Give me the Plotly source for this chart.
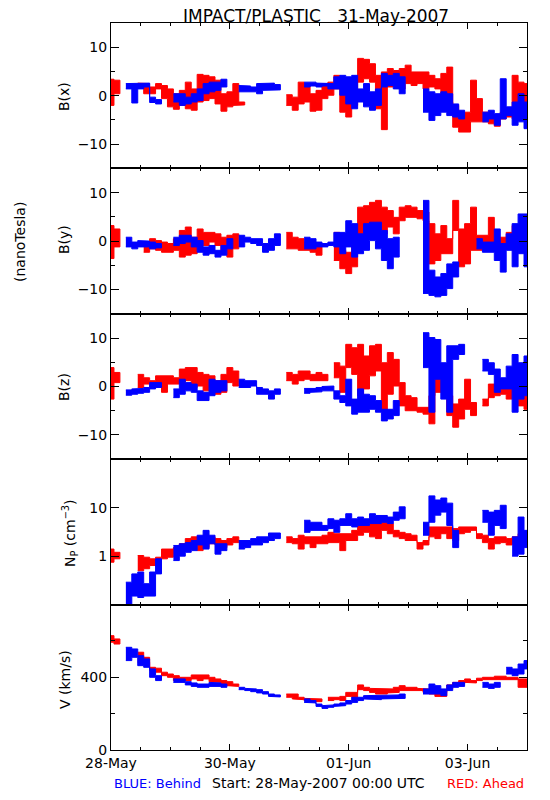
import plotly.graph_objects as go
from plotly.subplots import make_subplots

N = None
# time grid: days since 28-May-2007 00:00 UTC, 0.1-day samples
T = [k / 10 for k in range(71)]
HALF_STEP = 0.05

X_TICK_VALS = [0, 2, 4, 6]
X_TICK_TEXT = ["28-May", "30-May", "01-Jun", "03-Jun"]

# ---- B(x) nT ----
BX_A_HI = [3.4, 3.2, N, N, N, 2.6, 2.5, 1.8, 2.5, 2.1,
           1.4, 0.4, 1.1, 2.8, 1.4, 4.4, 4.2, 3.9, 3.2, 0.4,
           0.8, 2.5, -1.3, N, N, N, N, N, N, N,
           0.2, -0.3, 2.8, 2.5, 0.4, 1.1, 2.5, 2.8, 4.2, 3.2,
           1.4, 3.5, 7.7, 7.5, 6.6, 4.2, 4.9, 5.6, 5.2, 5.6,
           6.3, 4.9, 4.9, 4.9, 4.2, 3.5, 4.6, 5.9, -2.0, -4.1,
           -3.4, 3.2, -0.6, -3.4, -4.1, -4.4, -3.4, -3.4, 4.2, 2.8,
           2.5]
BX_A_LO = [-2.0, 0.4, N, N, N, 1.6, 0.4, 0.4, 1.4, -0.6,
           -2.3, -2.8, -2.0, -2.7, -3.0, -1.3, -1.0, -0.6, -1.7, -3.2,
           -2.3, -2.0, -1.9, N, N, N, N, N, N, N,
           -2.0, -3.0, -1.7, -1.3, -3.2, -3.0, -0.6, 0.1, 1.4, -3.4,
           -4.4, -2.0, 2.8, 3.5, 2.8, -2.7, -7.0, 1.8, 2.1, 1.4,
           2.5, 2.1, 2.5, 1.4, 1.8, 1.4, -0.3, -1.3, -6.5, -7.5,
           -7.5, -5.4, -5.4, -5.4, -5.8, -6.3, -4.8, -4.4, -4.8, -2.7,
           -4.1]
BX_B_HI = [N, N, N, 2.5, 2.5, 2.6, 2.6, -0.3, -0.8, N,
           N, 0.4, 0.4, -0.3, 0.4, 1.4, 2.5, 2.8, 2.8, 3.4,
           N, N, 2.1, 2.0, 1.8, 2.5, 2.5, 2.6, 2.3, N,
           N, N, N, 2.8, 2.8, 2.6, 2.6, 2.5, 3.9, 4.2,
           3.9, 4.2, 1.4, 2.5, 0.8, 1.4, 4.6, 4.2, 4.6, 3.9,
           N, N, N, 1.4, 0.8, 0.4, 0.8, 0.4, -1.7, -3.0,
           N, N, N, -3.4, -3.0, -3.7, 3.5, -2.3, -1.3, 0.4,
           -1.3]
BX_B_LO = [N, N, N, 1.4, -1.5, 1.4, 1.8, -1.4, -1.7, N,
           N, -1.3, -2.0, -1.7, -1.3, -1.0, 0.4, 0.8, 1.1, 1.8,
           N, N, 0.8, 0.8, 0.8, 0.4, 1.1, 1.1, 1.2, N,
           N, N, N, 1.8, 2.0, 1.8, 2.0, 1.4, 1.4, 0.1,
           -1.7, -2.7, -1.3, -2.3, -3.0, -2.0, 1.8, 2.1, 1.4, 0.4,
           N, N, N, -3.4, -5.1, -4.1, -3.4, -4.1, -4.4, -4.8,
           N, N, N, -5.4, -4.8, -6.1, -4.8, -4.1, -6.1, -5.4,
           -6.8]

# ---- B(y) nT ----
BY_A_HI = [3.2, 2.5, N, N, N, N, -0.2, 0.5, 0.1, -0.2,
           -0.5, 0.5, 2.2, 2.9, 0.8, 2.5, 1.8, 1.8, 1.5, 0.8,
           1.2, 1.5, N, N, N, N, N, N, N, N,
           1.8, 0.8, 0.5, -0.2, -0.2, -0.5, N, N, 1.8, -1.9,
           -2.3, 0.8, 7.0, 7.3, 8.0, 8.4, 7.0, 6.3, 4.9, 7.0,
           7.3, 7.0, 6.3, 6.0, 3.6, 1.5, 3.2, 0.5, 8.4, 2.5,
           3.6, 7.0, 1.2, 1.2, 4.9, 0.5, 0.8, 1.8, 3.2, 1.8,
           2.9]
BY_A_LO = [-3.6, -1.2, N, N, N, N, -2.3, -1.6, -1.9, -2.3,
           -2.3, -1.9, -3.3, -2.9, -2.6, -0.2, -0.9, -0.2, -0.9, -1.9,
           -3.3, -1.6, N, N, N, N, N, N, N, N,
           -1.6, -1.6, -1.9, -1.9, -2.3, -2.9, N, N, -4.0, -5.7,
           -6.7, -5.3, -0.5, 1.8, 3.6, 3.2, 1.5, 2.9, 1.5, 4.2,
           4.9, 4.9, 4.6, 4.2, -4.7, -4.0, -2.6, -2.6, 2.2, -5.3,
           -4.7, -1.9, -1.9, -1.6, -1.2, -1.6, -1.2, -0.9, -1.9, -1.6,
           -0.5]
BY_B_HI = [N, N, N, 0.8, -0.2, 0.1, 0.0, -0.2, -0.5, N,
           N, 0.8, 1.2, 1.2, 0.8, 0.1, -1.2, -0.9, -1.9, -0.9,
           0.5, N, 1.2, 0.8, 0.5, 0.5, -0.5, 0.5, 1.5, N,
           N, N, N, 0.8, 0.5, -0.2, -0.5, -0.2, 1.8, 1.8,
           4.2, 3.6, 1.5, 3.6, 3.9, 3.9, 2.2, 0.5, 0.8, N,
           N, N, N, 8.4, -6.0, -7.4, -6.7, -4.7, -4.3, N,
           N, N, 0.5, -0.2, -0.2, 2.5, -0.5, 1.5, 3.6, 5.6,
           5.6]
BY_B_LO = [N, N, N, -1.2, -1.6, -1.2, -1.2, -1.6, -1.4, N,
           N, -0.9, -0.5, -0.2, -1.2, -2.3, -2.9, -2.6, -3.3, -2.9,
           -1.6, N, -1.2, -0.2, -0.5, -0.9, -2.3, -1.9, -0.9, N,
           N, N, N, -1.6, -1.6, -1.2, -1.2, -0.9, -1.2, -2.6,
           -1.2, -3.3, -2.6, -1.9, 0.1, -1.6, -4.0, -5.7, -3.3, N,
           N, N, N, -10.8, -11.2, -11.5, -11.2, -9.8, -7.4, N,
           N, N, -1.6, -2.3, -2.3, -4.0, -6.4, -1.9, -5.3, -2.6,
           -5.3]

# ---- B(z) nT ----
BZ_A_HI = [3.9, 2.9, N, N, N, 2.5, 1.8, 1.2, 2.2, 2.2,
           2.2, 1.8, 3.6, 3.9, 3.9, 2.9, 2.5, 2.2, 1.2, 2.5,
           3.9, 3.2, N, N, N, N, N, N, N, N,
           2.9, 2.5, 3.2, 3.2, 2.5, 2.9, 2.5, N, 4.9, 4.2,
           8.7, 8.0, 8.7, 6.3, 8.4, 8.7, 4.9, 7.0, 5.6, 0.8,
           -1.9, -2.3, -4.3, -4.3, -1.9, 4.2, 3.6, -1.9, -3.6, -2.6,
           1.5, -3.3, N, -2.6, 0.5, 0.5, 1.2, -0.2, 2.9, -0.5,
           -1.6]
BZ_A_LO = [-2.6, 0.8, N, N, N, -0.2, 0.5, -0.2, 0.5, -1.2,
           0.5, 0.5, 0.8, 1.2, -0.2, 0.1, -0.9, -0.2, -1.6, -1.2,
           0.8, 0.1, N, N, N, N, N, N, N, N,
           1.2, 0.5, 1.2, 1.5, 1.2, 1.2, 1.2, N, 1.8, -1.2,
           3.9, 2.5, -1.9, -0.5, 2.2, 3.2, -5.0, -1.6, 0.1, -4.0,
           -5.0, -5.0, -5.3, -5.7, -7.7, -1.2, -1.2, -6.0, -8.4, -6.7,
           -4.7, -6.0, N, -4.0, -2.3, -1.9, -1.6, -2.6, -1.2, -4.0,
           -4.7]
BZ_B_HI = [N, N, N, -0.7, -0.5, -0.4, -0.2, 0.8, 0.8, N,
           N, -0.5, 1.5, 0.8, 0.5, -0.9, -1.2, 1.5, 1.2, 1.2,
           N, N, 1.5, 1.2, 1.2, -0.2, -0.5, -0.9, -0.5, N,
           N, N, N, -0.4, -0.4, -0.2, 0.0, 0.1, -0.9, -1.9,
           1.5, -2.6, -0.5, -1.6, -1.9, -2.9, -4.7, -4.7, -2.9, N,
           N, N, N, 11.1, 10.1, 9.7, 4.9, 8.4, 8.4, 8.7,
           N, N, N, 5.6, 4.9, 3.6, 1.8, 4.2, 6.6, 4.9,
           6.3]
BZ_B_LO = [N, N, N, -1.8, -1.6, -1.4, -1.2, -0.5, -0.2, N,
           N, -2.3, -1.6, -0.9, -1.2, -2.9, -2.9, -1.9, -1.2, -0.9,
           N, N, -0.2, -0.2, 0.1, -1.6, -1.6, -2.6, -1.6, N,
           N, N, N, -1.4, -1.2, -1.1, -0.9, -0.9, -2.6, -3.3,
           -4.0, -5.7, -5.3, -5.3, -4.7, -5.3, -7.1, -6.7, -6.0, N,
           N, N, N, 3.9, -5.3, 1.5, -2.6, -5.3, 5.6, 6.6,
           N, N, N, 3.2, 2.5, -1.2, -0.5, -0.5, -5.3, -2.6,
           -1.9]

# ---- Np (cm^-3) ----
NP_A_HI = [1.4, 1.2, N, N, N, 1.03, 0.95, 0.88, 0.95, 1.4,
           1.4, 1.5, 1.8, 2.3, 2.5, 2.5, 2.7, 2.5, 2.3, 2.1,
           2.3, 2.5, N, N, N, N, N, N, N, N,
           2.5, 2.3, 2.7, 2.5, 2.5, 2.5, 2.7, 3.1, 2.9, 2.9,
           2.9, 3.4, 4.3, 4.3, 4.7, 4.7, 5.0, 4.7, 3.4, 3.1,
           2.9, 2.7, 1.9, 2.1, 4.0, 4.0, 4.0, 4.0, 3.7, 4.0,
           4.0, 4.0, 2.9, 2.7, 2.3, 2.5, 2.5, 2.3, 2.5, 2.9,
           2.7]
NP_A_LO = [0.75, 0.88, N, N, N, 0.5, 0.55, 0.64, 0.64, 0.88,
           0.95, 1.1, 1.3, 1.5, 1.7, 1.3, 1.5, 1.8, 1.7, 1.5,
           1.7, 1.9, N, N, N, N, N, N, N, N,
           1.9, 1.8, 1.4, 1.8, 1.5, 1.8, 1.8, 1.9, 1.9, 1.3,
           2.1, 2.1, 2.7, 3.1, 2.5, 2.3, 3.4, 2.9, 2.5, 2.3,
           2.1, 2.1, 1.4, 1.7, 2.5, 2.3, 2.9, 2.3, 2.1, 2.9,
           3.1, 3.4, 2.3, 1.9, 1.4, 1.8, 1.9, 1.7, 1.8, 1.8,
           1.7]
NP_B_HI = [N, N, N, 0.29, 0.43, 0.47, 0.27, 0.47, 0.88, N,
           N, 1.66, 1.8, 1.9, 2.1, 2.7, 3.4, 2.7, 1.8, 1.8,
           N, N, 2.1, 2.1, 2.3, 2.5, 2.5, 3.0, 3.0, N,
           N, N, N, 5.5, 5.0, 5.0, 4.3, 5.9, 5.5, 5.9,
           7.5, 5.9, 6.4, 5.9, 7.5, 6.9, 6.9, 6.4, 8.1, 10.4,
           N, N, N, 5.0, 17.5, 14.4, 15.8, 12.4, 3.4, N,
           N, N, N, 8.8, 8.1, 8.8, 11.2, N, 2.5, 6.4,
           3.4]
NP_B_LO = [N, N, N, 0.10, 0.15, 0.14, 0.15, 0.15, 0.43, N,
           N, 0.81, 1.0, 1.2, 1.3, 1.7, 1.4, 1.8, 1.1, 1.3,
           N, N, 1.4, 1.5, 1.7, 1.7, 1.9, 2.1, 2.3, N,
           N, N, N, 3.1, 3.4, 3.4, 3.4, 3.7, 3.1, 4.3,
           4.3, 4.0, 4.3, 4.3, 4.7, 4.7, 5.0, 4.7, 5.5, 5.9,
           N, N, N, 2.7, 5.0, 7.0, 8.1, 4.3, 1.5, N,
           N, N, N, 5.0, 2.7, 4.3, 3.7, N, 1.0, 1.1,
           1.5]

# ---- V (km/s) ----
V_A_HI = [629, 611, N, N, N, 538, 510, 455, 450, 428,
          418, 409, 400, 400, 413, 413, 413, 400, 391, 382,
          376, 363, N, N, N, N, N, N, N, N,
          308, 308, 290, 284, 281, 281, N, 290, 290, 295,
          317, 317, 358, 345, 339, 336, 336, 336, 345, 354,
          345, 345, 339, 336, 327, 321, 317, 358, 372, 382,
          391, 382, 395, 400, 400, 406, 406, 400, 400, 391,
          391]
V_A_LO = [593, 583, N, N, N, 483, 483, 437, 428, 409,
          400, 382, 382, 382, 391, 382, 391, 376, 372, 363,
          354, 350, N, N, N, N, N, N, N, N,
          290, 281, 277, 272, 266, 266, N, 272, 277, 272,
          295, 290, 332, 327, 317, 308, 308, 314, 317, 327,
          327, 327, 327, 317, 308, 295, 295, 336, 354, 363,
          372, 369, 382, 387, 387, 391, 391, 391, 387, 345,
          345]
V_B_HI = [N, N, N, 565, 556, 519, 501, 446, 409, N,
          N, 391, 391, 376, 369, 363, 363, 372, 369, 363,
          N, N, 345, 339, 336, 332, 321, 308, 303, N,
          N, N, N, 281, 272, 253, 244, 248, 253, 259,
          272, 290, 290, 299, 299, 299, 303, 299, 303, 308,
          N, N, N, 336, 363, 354, 336, 358, 372, 372,
          N, N, N, 372, 363, 372, N, 455, 446, 473,
          492]
V_B_LO = [N, N, N, 492, 510, 464, 455, 400, 382, N,
          N, 372, 372, 358, 350, 345, 345, 350, 350, 345,
          N, N, 332, 327, 321, 314, 308, 295, 292, N,
          N, N, N, 262, 259, 240, 229, 235, 240, 244,
          253, 262, 272, 281, 281, 277, 281, 281, 281, 284,
          N, N, N, 308, 308, 308, 299, 327, 345, 350,
          N, N, N, 345, 339, 345, N, 418, 409, 418,
          446]

RED = "#ff0000"
BLUE = "#0000ff"
FONT = "DejaVu Sans"


def band(t, lo, hi):
    """Stepped polygon: each sample spans +/- HALF_STEP in time."""
    xs, ys, seg = [], [], []

    def flush():
        if seg:
            top_x, top_y, bot_x, bot_y = [], [], [], []
            for ti, l, h in seg:
                top_x += [ti - HALF_STEP, ti + HALF_STEP]
                top_y += [h, h]
                bot_x += [ti - HALF_STEP, ti + HALF_STEP]
                bot_y += [l, l]
            xs.extend(top_x + bot_x[::-1] + [None])
            ys.extend(top_y + bot_y[::-1] + [None])
            seg.clear()

    for ti, l, h in zip(t, lo, hi):
        if l is None or h is None:
            flush()
        else:
            seg.append((ti, l, h))
    flush()
    return xs, ys


fig = make_subplots(rows=5, cols=1, shared_xaxes=True, vertical_spacing=0)

panels = [
    (BX_A_LO, BX_A_HI, BX_B_LO, BX_B_HI),
    (BY_A_LO, BY_A_HI, BY_B_LO, BY_B_HI),
    (BZ_A_LO, BZ_A_HI, BZ_B_LO, BZ_B_HI),
    (NP_A_LO, NP_A_HI, NP_B_LO, NP_B_HI),
    (V_A_LO, V_A_HI, V_B_LO, V_B_HI),
]
for i, (alo, ahi, blo, bhi) in enumerate(panels, start=1):
    for lo, hi, col in ((alo, ahi, RED), (blo, bhi, BLUE)):
        xs, ys = band(T, lo, hi)
        fig.add_trace(go.Scatter(x=xs, y=ys, mode="lines", fill="toself",
                                 fillcolor=col, line=dict(color=col, width=1),
                                 hoverinfo="skip", showlegend=False), row=i, col=1)

axis_common = dict(showline=True, linecolor="black", linewidth=1, mirror="ticks",
                   ticks="inside", tickcolor="black", showgrid=False, zeroline=False,
                   tickfont=dict(family=FONT, size=14, color="black"))

for i in range(1, 6):
    fig.update_xaxes(range=[0, 7], tickvals=X_TICK_VALS, ticktext=X_TICK_TEXT,
                     ticklen=6, minor=dict(dtick=0.5, tick0=0, ticklen=3, ticks="inside",
                                           tickcolor="black"),
                     row=i, col=1, **axis_common)
    if i < 5:
        fig.update_xaxes(showticklabels=False, row=i, col=1)

for i in (1, 2, 3):
    fig.update_yaxes(range=[-15, 15], tickvals=[-10, 0, 10], ticktext=["\u221210", "0", "10"],
                     ticklen=8, minor=dict(dtick=5, tick0=0, ticklen=4, ticks="inside",
                                           tickcolor="black"),
                     row=i, col=1, **axis_common)
fig.update_yaxes(type="log", range=[-1, 2], tickvals=[1, 10], ticktext=["1", "10"],
                 ticklen=8, row=4, col=1, **axis_common)
fig.update_yaxes(range=[0, 800], tickvals=[0, 400], ticktext=["0", "400"], ticklen=8,
                 minor=dict(dtick=200, tick0=0, ticklen=4, ticks="inside", tickcolor="black"),
                 row=5, col=1, **axis_common)

# The page body has an 8px default margin, so the figure is offset by 8px.
OFF = 8
SL, SR, ST, SB = 111, 527, 23, 750          # plot frame in screen pixels
W, H = 550 - OFF, 800 - OFF
L, TOP = SL - OFF, ST - OFF
R, B = W - (SR - OFF), H - (SB - OFF)
pw, ph = SR - SL, SB - ST


def px(x):
    return (x - SL) / pw


def py(y):
    return (SB - y) / ph


def ann(text, x, y, size=14, color="black", angle=0, xanchor="center"):
    fig.add_annotation(text=text, x=px(x), y=py(y), xref="paper", yref="paper",
                       showarrow=False, textangle=angle, xanchor=xanchor, yanchor="middle",
                       font=dict(family=FONT, size=size, color=color))


ann("IMPACT/PLASTIC \u00a0 31-May-2007", 316, 16, size=17)
ann("B(x)", 64, 97, angle=-90)
ann("B(y)", 64, 240, angle=-90)
ann("B(z)", 64, 387, angle=-90)
ann("N<sub>P</sub> (cm<sup>\u22123</sup>)", 70, 533, angle=-90)
ann("V (km/s)", 65, 680, angle=-90)
ann("(nanoTesla)", 20, 242, angle=-90)
ann("BLUE: Behind", 112, 783, size=13, color=BLUE, xanchor="left")
ann("Start: 28-May-2007 00:00 UTC", 318, 783)
ann("RED: Ahead", 526, 783, size=13, color=RED, xanchor="right")

fig.update_layout(width=W, height=H, margin=dict(l=L, r=R, t=TOP, b=B),
                  paper_bgcolor="white", plot_bgcolor="white",
                  font=dict(family=FONT, size=14, color="black"), showlegend=False)

fig.write_html("out.html")
